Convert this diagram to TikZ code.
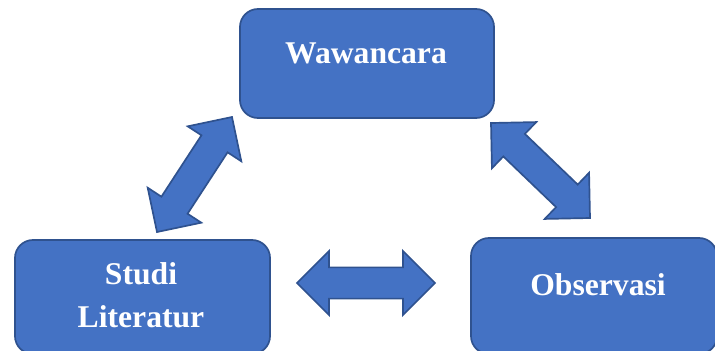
\documentclass[tikz,border=0pt]{standalone}
\usepackage{fontspec}
\setmainfont{Liberation Serif}
\usetikzlibrary{calc, positioning}

\definecolor{kotakbiru}{HTML}{4472C4}
\definecolor{garisbiru}{HTML}{2F528F}

% panah blok dua arah antara dua titik
\newcommand{\panahganda}[2]{%
  \coordinate (#1-p) at ($(#1)!0.8cm!(#2)$);
  \coordinate (#2-p) at ($(#2)!0.8cm!(#1)$);
  \draw[panah] (#1)
    -- ($(#1-p)!0.8cm!90:(#2)$) -- ($(#1-p)!0.39cm!90:(#2)$)
    -- ($(#2-p)!0.39cm!-90:(#1)$) -- ($(#2-p)!0.8cm!-90:(#1)$)
    -- (#2)
    -- ($(#2-p)!0.8cm!90:(#1)$) -- ($(#2-p)!0.39cm!90:(#1)$)
    -- ($(#1-p)!0.39cm!-90:(#2)$) -- ($(#1-p)!0.8cm!-90:(#2)$)
    -- cycle;}

\begin{document}
\begin{tikzpicture}[x=0.025cm, y=-0.025cm, thick]
        \tikzstyle{block} = [draw=garisbiru, fill=kotakbiru, line width=1.2pt, rounded corners=0.45cm, inner sep=0pt]
        \tikzstyle{tulisan} = [text=white, font=\bfseries\fontsize{22.5}{30}\selectfont, align=center, inner sep=0pt]
        \tikzstyle{panah} = [draw=garisbiru, fill=kotakbiru, line width=1.2pt, line join=miter]

        \useasboundingbox (0,0) rectangle (715,350);
        \clip (0,0) rectangle (715,350);

        % Kotak
        \node[block, minimum width=6.35cm, minimum height=2.725cm] (wawancara) at (367,63.5) {};
        \node[block, minimum width=6.375cm, minimum height=2.85cm] (studi) at (142.5,297) {};
        \node[block, minimum width=6.15cm, minimum height=2.9cm] (observasi) at (594,296) {};

        % Teks
        \node[tulisan, anchor=base] (teks-wawancara) at (366,63) {Wawancara};
        \node[tulisan, anchor=base] (teks-studi) at (141,327) {Studi\\Literatur};
        \node[tulisan, anchor=base] (teks-observasi) at (598,295) {Observasi};

        % Ujung panah
        \coordinate (kiri-bawah) at (157,232);
        \coordinate (kiri-atas) at (232,117);
        \coordinate (kanan-atas) at (491,123);
        \coordinate (kanan-bawah) at (590,218);
        \coordinate (tengah-kiri) at (297,283);
        \coordinate (tengah-kanan) at (435,283);

        \panahganda{kiri-bawah}{kiri-atas}
        \panahganda{kanan-atas}{kanan-bawah}
        \panahganda{tengah-kiri}{tengah-kanan}

        \end{tikzpicture}
\end{document}
